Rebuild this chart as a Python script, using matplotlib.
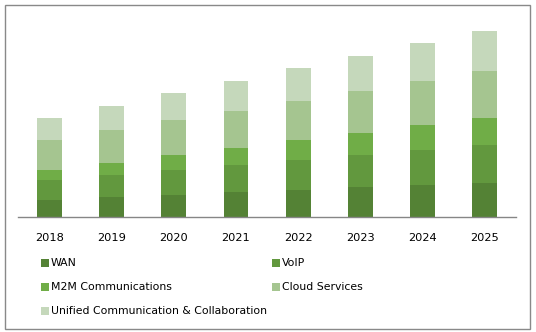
import matplotlib
matplotlib.use("Agg")
import matplotlib.pyplot as plt
from matplotlib.patches import Rectangle
import numpy as np

years = ["2018", "2019", "2020", "2021", "2022", "2023", "2024", "2025"]
series = ["WAN", "VoIP", "M2M Communications", "Cloud Services",
          "Unified Communication & Collaboration"]
wan = [5.2, 6.1, 6.7, 7.6, 8.2, 9.1, 9.7, 10.3]
voip = [6.0, 6.6, 7.5, 8.1, 9.0, 9.6, 10.5, 11.4]
m2m = [3.0, 3.6, 4.5, 5.1, 6.0, 6.6, 7.5, 8.1]
cloud = [9.0, 9.9, 10.5, 11.1, 11.7, 12.6, 13.2, 14.1]
ucc = [6.6, 7.2, 8.1, 9.0, 9.9, 10.5, 11.4, 12.0]
colors = ["#548235", "#62983e", "#70ad47", "#a5c590", "#c5d8bb"]

W, H = 536, 332
fig = plt.figure(figsize=(W / 100, H / 100), dpi=100)

def fx(px):
    return px / W

def fy(py):
    return 1 - py / H

# plot area in pixel terms
ax = fig.add_axes([fx(18.3), fy(217.3), fx(516 - 18.3), (217.3 - 20) / H])
x = np.arange(len(years))
bottom = np.zeros(len(years))
for vals, c in zip([wan, voip, m2m, cloud, ucc], colors):
    ax.bar(x, vals, width=0.4, bottom=bottom, color=c, linewidth=0)
    bottom += np.array(vals)

ax.set_xlim(-0.5, len(years) - 0.5)
ax.set_ylim(0, 59.2)
for s in ["top", "right", "left"]:
    ax.spines[s].set_visible(False)
ax.spines["bottom"].set_color("#868686")
ax.spines["bottom"].set_linewidth(1.0)
ax.set_yticks([])
ax.set_xticks(x)
ax.set_xticklabels(years, fontsize=8.2, color="#000000")
ax.tick_params(axis="x", length=0, pad=11)

# legend, laid out by hand in two columns
legend_pos = [(41, 263), (272, 263), (41, 287), (272, 287), (41, 311)]
for name, c, (px, py) in zip(series, colors, legend_pos):
    fig.patches.append(Rectangle((fx(px), fy(py + 4)), fx(8), 8 / H,
                                 transform=fig.transFigure, facecolor=c,
                                 edgecolor="none"))
    fig.text(fx(px + 10), fy(py), name, fontsize=7.8, color="#000000",
             va="center", ha="left")

# chart border
fig.patches.append(Rectangle((fx(4.5), fy(329)), fx(530 - 4.5), (329 - 4.5) / H,
                             transform=fig.transFigure, facecolor="none",
                             edgecolor="#898989", linewidth=1.0))

fig.savefig("out.png", dpi=100)
